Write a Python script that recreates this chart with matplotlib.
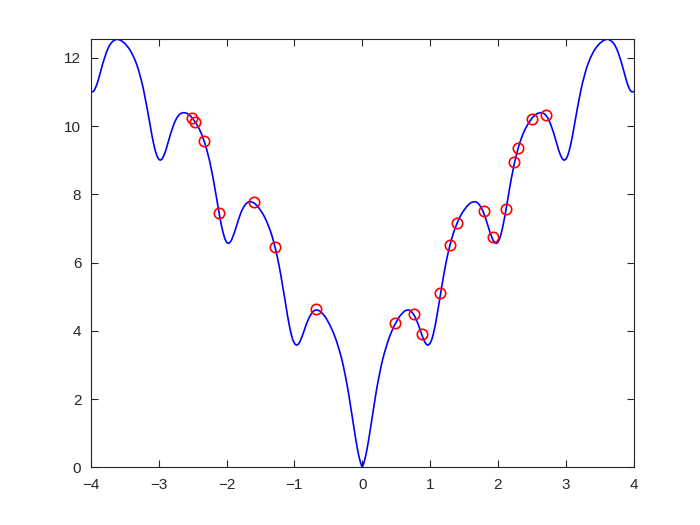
import matplotlib
matplotlib.use("Agg")
import matplotlib.pyplot as plt

plt.rcParams['font.family'] = ['Liberation Sans', 'DejaVu Sans']

# curve, x from 0 to 4 in steps of 0.025 (curve is symmetric)
x_right = [round(0.025 * k, 3) for k in range(161)]
y_right = [0.00, 0.13, 0.33, 0.58, 0.87, 1.18, 1.51, 1.83, 2.14, 2.43,
           2.69, 2.93, 3.15, 3.34, 3.51, 3.67, 3.81, 3.94, 4.05, 4.16,
           4.25, 4.34, 4.42, 4.48, 4.53, 4.58, 4.60, 4.61, 4.60, 4.56,
           4.50, 4.42, 4.31, 4.19, 4.05, 3.90, 3.77, 3.66, 3.59, 3.58,
           3.63, 3.74, 3.92, 4.15, 4.42, 4.72, 5.03, 5.33, 5.62, 5.89,
           6.14, 6.36, 6.56, 6.74, 6.90, 7.03, 7.16, 7.27, 7.37, 7.46,
           7.53, 7.60, 7.66, 7.71, 7.75, 7.77, 7.78, 7.78, 7.75, 7.70,
           7.62, 7.53, 7.40, 7.26, 7.10, 6.94, 6.80, 6.67, 6.59, 6.56,
           6.59, 6.69, 6.86, 7.07, 7.33, 7.61, 7.91, 8.20, 8.48, 8.73,
           8.97, 9.17, 9.36, 9.52, 9.66, 9.79, 9.90, 9.99, 10.08, 10.15,
           10.22, 10.28, 10.32, 10.36, 10.38, 10.39, 10.39, 10.37, 10.33, 10.27,
           10.18, 10.07, 9.93, 9.78, 9.61, 9.44, 9.27, 9.14, 9.04, 9.00,
           9.02, 9.11, 9.26, 9.47, 9.71, 9.99, 10.27, 10.55, 10.81, 11.06,
           11.28, 11.47, 11.65, 11.80, 11.93, 12.04, 12.14, 12.23, 12.30, 12.36,
           12.42, 12.46, 12.50, 12.52, 12.54, 12.54, 12.52, 12.49, 12.44, 12.37,
           12.27, 12.15, 12.00, 11.84, 11.66, 11.48, 11.30, 11.16, 11.05, 11.00,
           11.01]

x_curve = [-v for v in x_right[:0:-1]] + x_right
y_curve = y_right[:0:-1] + y_right

# red circle samples
pts_x = [-2.51, -2.46, -2.33, -2.11, -1.60, -1.28, -0.68,
         0.48, 0.76, 0.88, 1.15, 1.29, 1.40, 1.79, 1.93, 2.12,
         2.24, 2.30, 2.50, 2.71]
pts_y = [10.24, 10.13, 9.56, 7.44, 7.78, 6.46, 4.63,
         4.24, 4.50, 3.90, 5.10, 6.52, 7.17, 7.51, 6.74, 7.58,
         8.96, 9.36, 10.22, 10.33]

fig = plt.figure(figsize=(7, 5.25), dpi=100)
ax = fig.add_axes([0.13, 0.11, 0.775, 0.815])

ax.plot(x_curve, y_curve, color=(0, 0, 1), linewidth=1.2)
ax.plot(pts_x, pts_y, 'o', markerfacecolor='none', markeredgecolor=(1, 0, 0),
        markersize=7.5, markeredgewidth=1.2)

ax.set_xlim(-4, 4)
ax.set_ylim(0, 12.54)
ax.set_xticks(range(-4, 5))
ax.set_yticks(range(0, 13, 2))
ax.tick_params(direction='in', top=True, right=True, length=5, width=0.8,
               labelsize=11, colors='#262626')
ax.tick_params(axis='x', pad=8)
ax.tick_params(axis='y', pad=7)
for s in ax.spines.values():
    s.set_linewidth(0.8)
    s.set_color('#262626')

fig.savefig("out.png", dpi=100)
